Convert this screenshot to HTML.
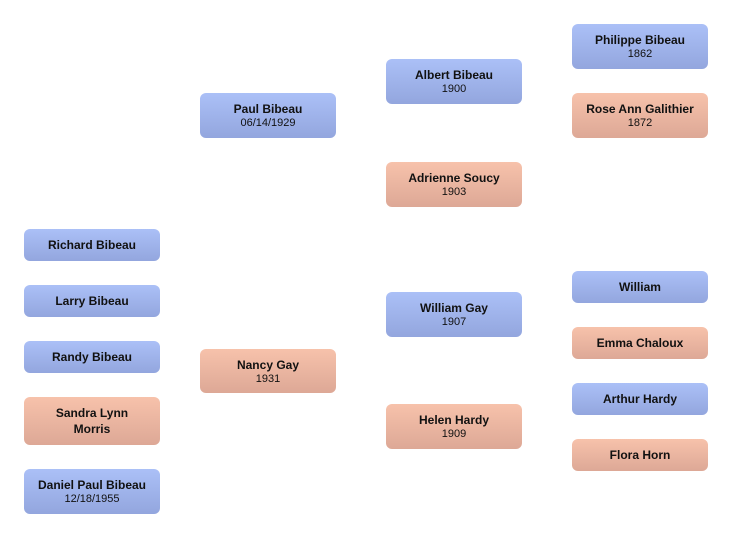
<!DOCTYPE html>
<html><head><style>
body{margin:0;width:732px;height:538px;background:#fff;position:relative;font-family:"Liberation Sans",sans-serif;overflow:hidden}
.b{position:absolute;width:136px;border-radius:6px;display:flex;flex-direction:column;justify-content:center;align-items:center;text-align:center;color:#111;box-sizing:border-box;padding:0 6px}
.m{background:linear-gradient(#abc0f7,#93a6de)}
.f{background:linear-gradient(#f7c2ab,#dda896)}
.n{font-weight:bold;font-size:12px;line-height:16px}
.d{font-size:11px;line-height:13px}
</style></head><body>
<div class="b m" style="left:24px;top:229px;height:32px"><div class="n">Richard Bibeau</div></div>
<div class="b m" style="left:24px;top:285px;height:32px"><div class="n">Larry Bibeau</div></div>
<div class="b m" style="left:24px;top:341px;height:32px"><div class="n">Randy Bibeau</div></div>
<div class="b f" style="left:24px;top:397px;height:48px"><div class="n">Sandra Lynn<br>Morris</div></div>
<div class="b m" style="left:24px;top:469px;height:45px"><div class="n">Daniel Paul Bibeau</div><div class="d">12/18/1955</div></div>
<div class="b m" style="left:200px;top:93px;height:45px"><div class="n">Paul Bibeau</div><div class="d">06/14/1929</div></div>
<div class="b f" style="left:200px;top:349px;height:44px"><div class="n">Nancy Gay</div><div class="d">1931</div></div>
<div class="b m" style="left:386px;top:59px;height:45px"><div class="n">Albert Bibeau</div><div class="d">1900</div></div>
<div class="b f" style="left:386px;top:162px;height:45px"><div class="n">Adrienne Soucy</div><div class="d">1903</div></div>
<div class="b m" style="left:386px;top:292px;height:45px"><div class="n">William Gay</div><div class="d">1907</div></div>
<div class="b f" style="left:386px;top:404px;height:45px"><div class="n">Helen Hardy</div><div class="d">1909</div></div>
<div class="b m" style="left:572px;top:24px;height:45px"><div class="n">Philippe Bibeau</div><div class="d">1862</div></div>
<div class="b f" style="left:572px;top:93px;height:45px"><div class="n">Rose Ann Galithier</div><div class="d">1872</div></div>
<div class="b m" style="left:572px;top:271px;height:32px"><div class="n">William</div></div>
<div class="b f" style="left:572px;top:327px;height:32px"><div class="n">Emma Chaloux</div></div>
<div class="b m" style="left:572px;top:383px;height:32px"><div class="n">Arthur Hardy</div></div>
<div class="b f" style="left:572px;top:439px;height:32px"><div class="n">Flora Horn</div></div>
</body></html>
